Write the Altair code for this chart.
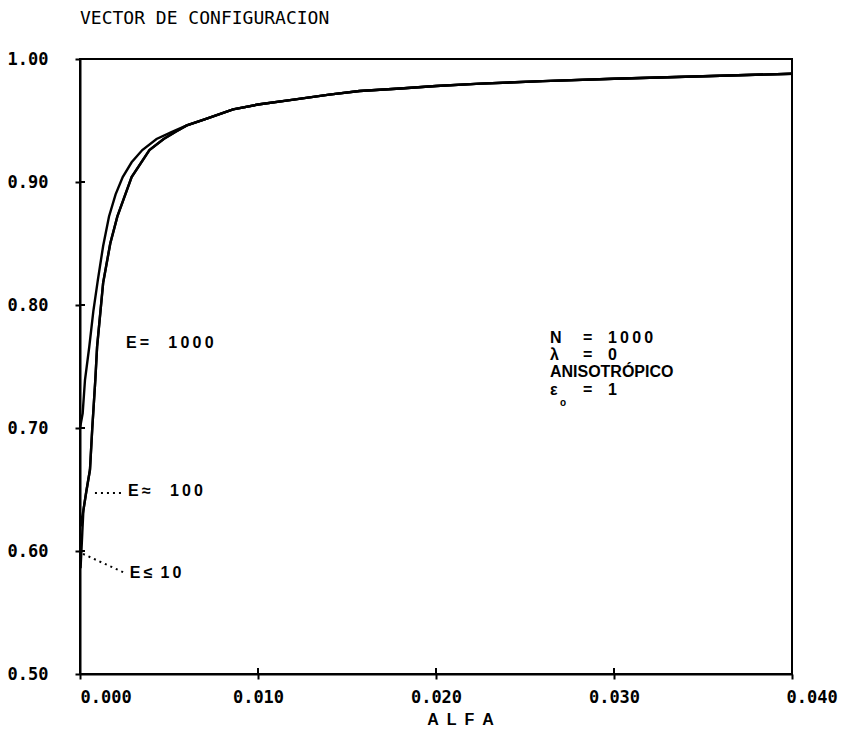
import altair as alt
import pandas as pd

# ---------------- data ----------------
# curve E = 1000 (left curve)
alpha_e1000 = [0.0, 0.00015, 0.00028, 0.00052, 0.00075, 0.0010, 0.0013, 0.00163, 0.0020,
               0.0024, 0.0029, 0.0035, 0.0043, 0.0052, 0.0060, 0.0070, 0.0086, 0.0100,
               0.0120, 0.0140, 0.0157, 0.0180, 0.0200, 0.0225, 0.0260, 0.0300, 0.0350, 0.0400]
val_e1000 = [0.700, 0.712, 0.739, 0.766, 0.795, 0.820, 0.848, 0.872, 0.890,
             0.904, 0.916, 0.926, 0.935, 0.941, 0.946, 0.951, 0.959, 0.963,
             0.967, 0.971, 0.974, 0.976, 0.978, 0.980, 0.982, 0.984, 0.986, 0.988]

# curve E = 100
alpha_e100 = [0.00005, 0.00010, 0.00019, 0.00035, 0.00056, 0.00069, 0.00086, 0.00096, 0.0013,
              0.0017, 0.0021, 0.0029, 0.0039, 0.0047, 0.0054, 0.0060, 0.0070, 0.0086, 0.0100,
              0.0120, 0.0140, 0.0157, 0.0180, 0.0200, 0.0225, 0.0260, 0.0300, 0.0350, 0.0400]
val_e100 = [0.620, 0.626, 0.633, 0.648, 0.666, 0.700, 0.739, 0.766, 0.818,
            0.850, 0.872, 0.904, 0.926, 0.935, 0.941, 0.946, 0.951, 0.959, 0.963,
            0.967, 0.971, 0.974, 0.976, 0.978, 0.980, 0.982, 0.984, 0.986, 0.988]

# curve E <= 10
alpha_e10 = [0.00003, 0.00008, 0.00013, 0.00019, 0.00035, 0.00056, 0.00069, 0.00086, 0.00096,
             0.0013, 0.0017, 0.0021, 0.0029, 0.0039, 0.0047, 0.0054, 0.0060, 0.0070, 0.0086,
             0.0100, 0.0120, 0.0140, 0.0157, 0.0180, 0.0200, 0.0225, 0.0260, 0.0300, 0.0350, 0.0400]
val_e10 = [0.586, 0.600, 0.615, 0.633, 0.648, 0.666, 0.700, 0.739, 0.766,
           0.818, 0.850, 0.872, 0.904, 0.926, 0.935, 0.941, 0.946, 0.951, 0.959,
           0.963, 0.967, 0.971, 0.974, 0.976, 0.978, 0.980, 0.982, 0.984, 0.986, 0.988]

x_ticks = [0.0, 0.01, 0.02, 0.03, 0.04]
y_ticks = [0.5, 0.6, 0.7, 0.8, 0.9, 1.0]

# curve labels (text, alpha, value); thin spaces mimic the plotter's letter spacing
curve_labels = ["E\u2009=\u2003\u20091\u20090\u20090\u20090",
                "E\u2009\u2248\u2003\u20091\u20090\u20090",
                "E\u2009\u2264\u20021\u20090"]
curve_label_alpha = [0.00258, 0.00270, 0.00280]
curve_label_value = [0.769, 0.6488, 0.582]

# dotted leaders (start alpha, start value, end alpha, end value)
leader_a1 = [0.00084, 0.00017]
leader_v1 = [0.6472, 0.5976]
leader_a2 = [0.00250, 0.00253]
leader_v2 = [0.6472, 0.5821]

# parameter block
param_left = ["N", "\u03bb", "ANISOTR\u00d3PICO", "\u03b5"]
param_eq = ["=", "=", "", "="]
param_val = ["1\u20090\u20090\u20090", "0", "", "1"]
param_rows = [0.7732, 0.7593, 0.7455, 0.7309]
param_col_alpha = [0.0264, 0.02826, 0.02966]
sub_text = "o"
sub_alpha = 0.02697
sub_value = 0.7205

title_text = "VECTOR DE CONFIGURACION"
x_title = "A\u2002L\u2002F\u2002A"

# ---------------- build tables ----------------
curves = pd.concat([
    pd.DataFrame({"alpha": alpha_e1000, "value": val_e1000, "serie": "E=1000"}),
    pd.DataFrame({"alpha": alpha_e100, "value": val_e100, "serie": "E=100"}),
    pd.DataFrame({"alpha": alpha_e10, "value": val_e10, "serie": "E<=10"}),
], ignore_index=True)

lab_df = pd.DataFrame({"label": curve_labels, "alpha": curve_label_alpha, "value": curve_label_value})
lead_df = pd.DataFrame({"alpha": leader_a1, "value": leader_v1, "a2": leader_a2, "v2": leader_v2})

rows = []
for i, r in enumerate(param_rows):
    for txt, col in zip([param_left[i], param_eq[i], param_val[i]], param_col_alpha):
        if txt:
            rows.append({"label": txt, "alpha": col, "value": r})
par_df = pd.DataFrame(rows)
sub_df = pd.DataFrame({"label": [sub_text], "alpha": [sub_alpha], "value": [sub_value]})

ytick_df = pd.DataFrame({"value": y_ticks})
xtick_df = pd.DataFrame({"alpha": x_ticks})

W, H = 712, 615
xs = alt.Scale(domain=[0, 0.04], nice=False, zero=False)
ys = alt.Scale(domain=[0.5, 1.0], nice=False, zero=False)

MONO = "DejaVu Sans Mono"
SANS = "Liberation Sans"

x_axis = alt.Axis(values=x_ticks, format=".3f", title=x_title,
                  labelFlush=False, labelPadding=10,
                  labelAlign={"condition": {"test": "datum.value <= 0.0001 || datum.value >= 0.0399",
                                            "value": "left"},
                              "value": "center"},
                  labelOffset={"condition": {"test": "datum.value >= 0.0399", "value": -6},
                               "value": 0},
                  titleX=380, titleY=50, titleAnchor="start", titleAlign="center",
                  titleBaseline="alphabetic", titleFontSize=16)
y_axis = alt.Axis(values=y_ticks, format=".2f", title=None, labelPadding=27)


def X(f):
    return alt.X(f, scale=xs, axis=x_axis)


def Y(f):
    return alt.Y(f, scale=ys, axis=y_axis)


lines = alt.Chart(curves).mark_line(color="black", strokeWidth=2.4, clip=True).encode(
    x=X("alpha:Q"), y=Y("value:Q"), detail="serie:N",
)

leaders = alt.Chart(lead_df).mark_rule(color="black", strokeWidth=2, strokeDash=[2, 4]).encode(
    x=X("alpha:Q"), y=Y("value:Q"), x2="a2:Q", y2="v2:Q",
)

labels = alt.Chart(lab_df).mark_text(align="left", baseline="middle", font=SANS,
                                     fontSize=16, fontWeight="bold", color="black").encode(
    x=X("alpha:Q"), y=Y("value:Q"), text="label:N",
)

params = alt.Chart(par_df).mark_text(align="left", baseline="middle", font=SANS,
                                     fontSize=16, fontWeight="bold", color="black").encode(
    x=X("alpha:Q"), y=Y("value:Q"), text="label:N",
)

sub = alt.Chart(sub_df).mark_text(align="left", baseline="middle", font=SANS,
                                  fontSize=10, fontWeight="bold", color="black").encode(
    x=X("alpha:Q"), y=Y("value:Q"), text="label:N",
)

ytin = alt.Chart(ytick_df).mark_rule(color="black", strokeWidth=2).encode(
    y=Y("value:Q"), x=alt.value(0), x2=alt.value(5),
)
xtin = alt.Chart(xtick_df).mark_rule(color="black", strokeWidth=2).encode(
    x=X("alpha:Q"), y=alt.value(H), y2=alt.value(H - 6),
)

chart = alt.layer(lines, leaders, labels, params, sub, ytin, xtin).properties(
    width=W, height=H,
    autosize=alt.AutoSizeParams(type="none"),
    padding={"left": 72, "top": 51, "right": 47, "bottom": 54},
    title=alt.TitleParams(title_text, anchor="start", frame="group", font=MONO, fontSize=18,
                          fontWeight="normal", color="black", offset=22),
    background="white",
).configure_view(stroke="black", strokeWidth=2).configure_axis(
    grid=False, domainColor="black", domainWidth=2, tickColor="black", tickWidth=2,
    tickSize=5, labelFont=MONO, labelFontSize=17, labelFontWeight="bold", labelColor="black",
    titleFont=SANS, titleFontSize=17, titleFontWeight="bold", titleColor="black",
)

chart.save("out.html", embed_options={"renderer": "svg", "actions": False})
